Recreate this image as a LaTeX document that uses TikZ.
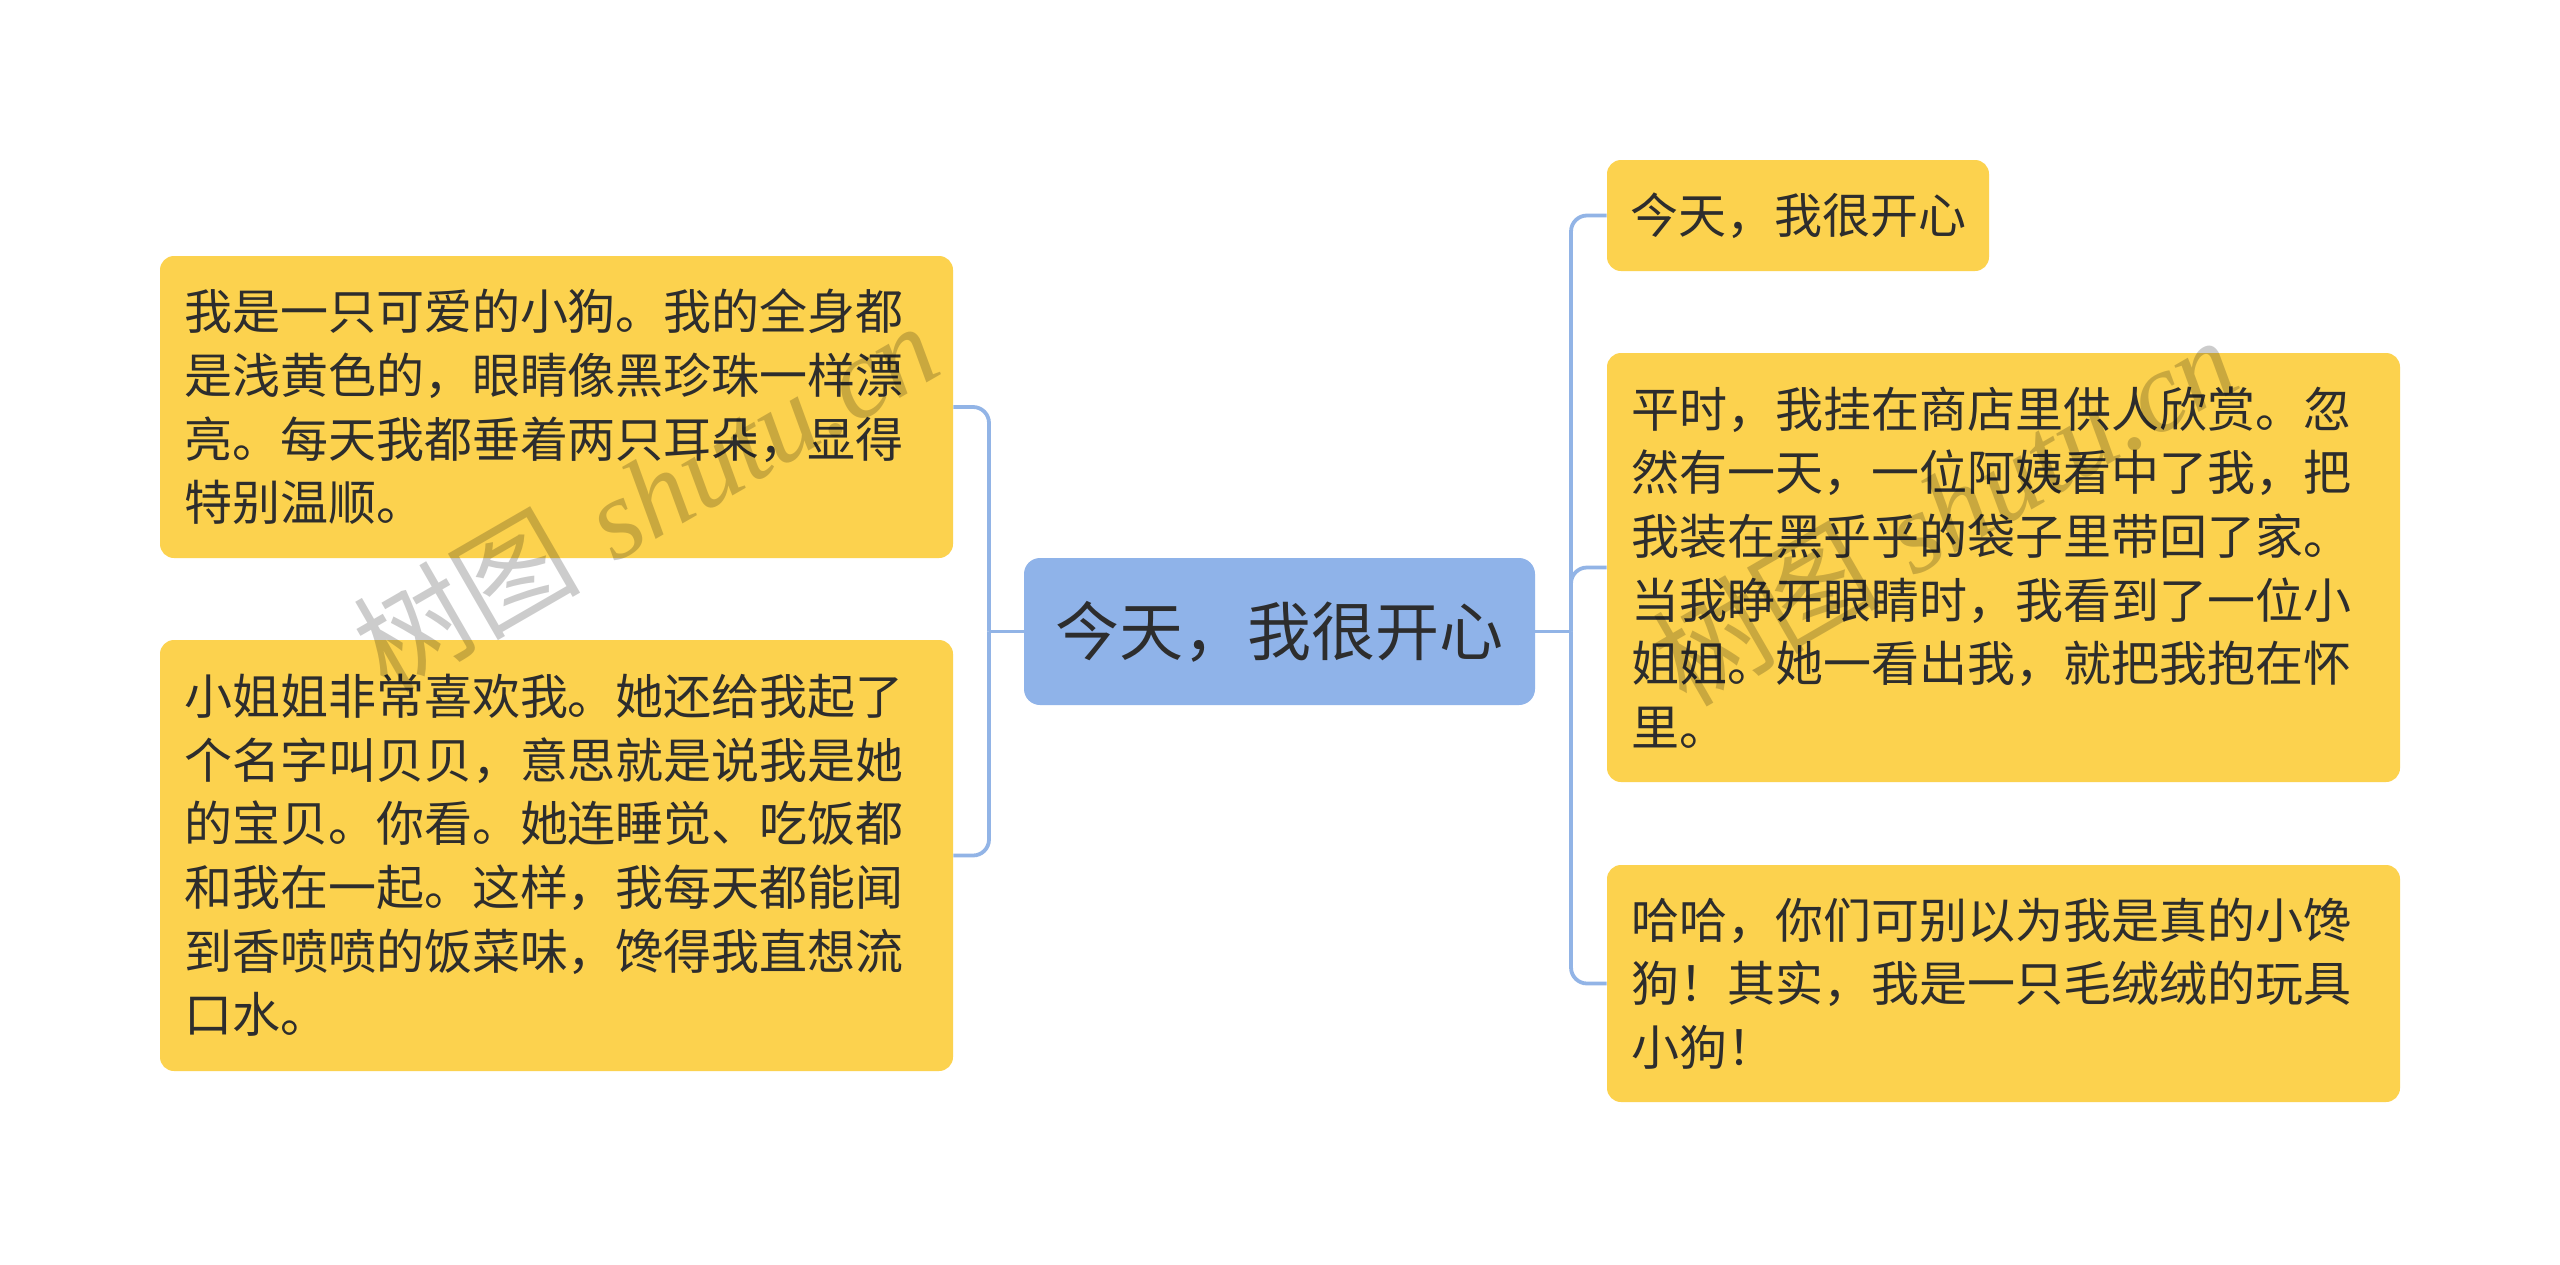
\documentclass[tikz,border=0pt]{standalone}
\usepackage{fontspec}
\newfontfamily\cjk{Noto Sans CJK SC}
\newfontfamily\wmfont{Liberation Serif}
\definecolor{boxyellow}{RGB}{252,210,78}
\definecolor{centerblue}{RGB}{143,179,233}
\definecolor{linkblue}{RGB}{146,180,230}
\definecolor{txt}{RGB}{45,45,45}
\tikzset{
  leaf/.style={fill=boxyellow, rounded corners=7pt, inner xsep=12pt, inner ysep=0pt,
    align=left, text=txt, font=\cjk\fontsize{24pt}{31.85pt}\selectfont},
  hub/.style={fill=centerblue, rounded corners=8pt, inner sep=0pt, align=center,
    text=txt, font=\cjk\fontsize{32pt}{40pt}\selectfont},
  link/.style={draw=linkblue, line width=1.9pt, rounded corners=8pt},
  wm/.style={text=black, opacity=0.2, font=\fontsize{57pt}{62pt}\selectfont, inner sep=0pt}
}
\begin{document}
\begin{tikzpicture}[x=0.5pt,y=-0.5pt]
\useasboundingbox (0,0) rectangle (2560,1264);
\fill[white] (0,0) rectangle (2560,1264);

\node[hub, minimum width=255.5pt, minimum height=73.5pt] (C) at (1279.5,631.5) {今天，我很开心};

\node[leaf, text width=372.5pt, minimum height=151pt] (L1) at (556.5,407)
 {我是一只可爱的小狗。我的全身都\\是浅黄色的，眼睛像黑珍珠一样漂\\亮。每天我都垂着两只耳朵，显得\\特别温顺。};
\node[leaf, text width=372.5pt, minimum height=215.5pt] (L2) at (556.5,855.5)
 {小姐姐非常喜欢我。她还给我起了\\个名字叫贝贝，意思就是说我是她\\的宝贝。你看。她连睡觉、吃饭都\\和我在一起。这样，我每天都能闻\\到香喷喷的饭菜味，馋得我直想流\\口水。};

\node[leaf, inner xsep=0pt, align=center, minimum width=191pt, minimum height=55.5pt] (R1) at (1798,215.5)
 {今天，我很开心};
\node[leaf, text width=372.5pt, minimum height=214.5pt] (R2) at (2003.5,567.5)
 {平时，我挂在商店里供人欣赏。忽\\然有一天，一位阿姨看中了我，把\\我装在黑乎乎的袋子里带回了家。\\当我睁开眼睛时，我看到了一位小\\姐姐。她一看出我，就把我抱在怀\\里。};
\node[leaf, text width=372.5pt, minimum height=118.5pt] (R3) at (2003.5,983.5)
 {哈哈，你们可别以为我是真的小馋\\狗！其实，我是一只毛绒绒的玩具\\小狗！};

\coordinate (lj) at (989,631.5);
\coordinate (rj) at (1571,631.5);

\draw[link] (C.west) -- (lj);
\draw[link] (L1.east) -| (lj);
\draw[link] (L2.east) -| (lj);
\draw[link] (C.east) -- (rj);
\draw[link] (R1.west) -| (rj);
\draw[link] (R2.west) -| (rj);
\draw[link] (R3.west) -| (rj);

\node[wm, rotate=30] (W1) at (645,496) {{\cjk 树图} {\wmfont\itshape shutu.cn}};
\node[wm, rotate=30] (W2) at (1944,510) {{\cjk 树图} {\wmfont\itshape shutu.cn}};
\end{tikzpicture}
\end{document}
